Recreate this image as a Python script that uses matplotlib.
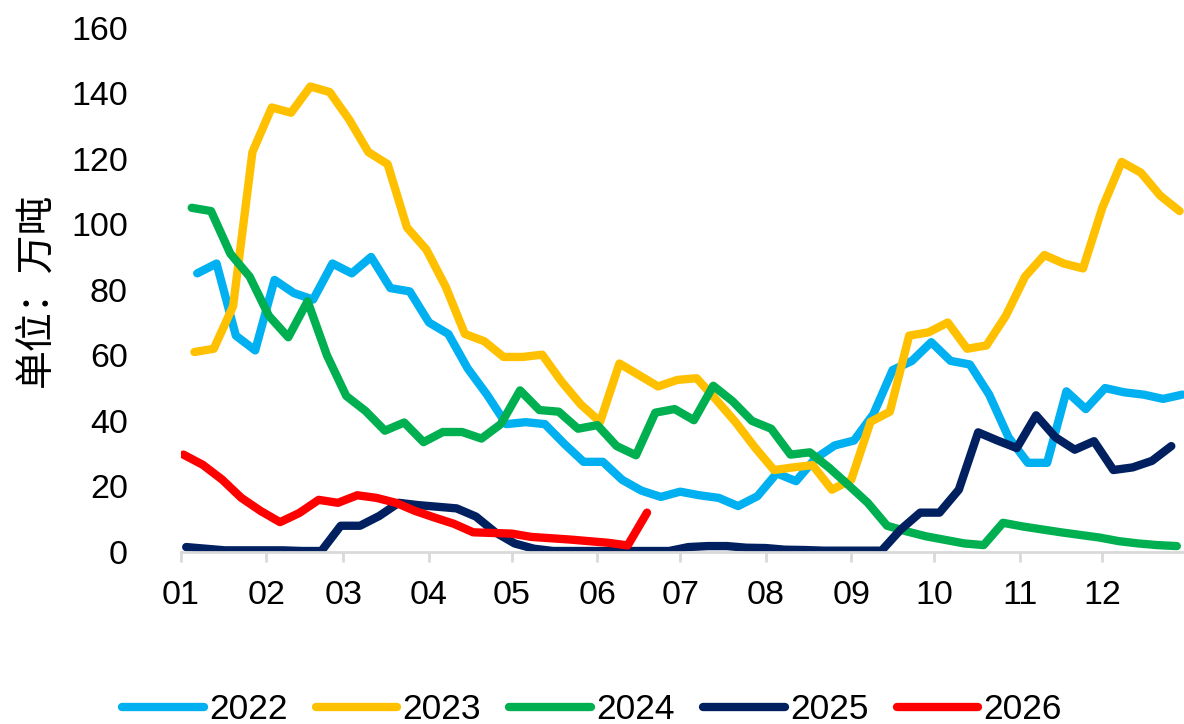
import matplotlib
matplotlib.use('Agg')
import matplotlib.pyplot as plt
import pandas as pd

plt.rcParams['font.family'] = ['Liberation Sans', 'DejaVu Sans']

# weekly series, first report date of each year (Fridays)
years = ['2022', '2023', '2024', '2025', '2026']
start_dates = ['2022-01-07', '2023-01-06', '2024-01-05', '2025-01-03', '2026-01-02']
colors = ['#00B0F0', '#FFC000', '#00B050', '#002060', '#FF0000']

v2022 = [85, 88, 66, 61.5, 83, 79, 77, 88, 85, 90, 80.5, 79.5, 70, 66.5, 56,
         48, 39, 39.6, 39, 33, 27.5, 27.5, 22, 18.7, 16.8, 18.4, 17.3, 16.5, 14,
         17, 24, 21.6, 28.5, 32.5, 34, 42, 55.5, 58.3, 64, 58.3, 57.2, 48, 35,
         27.2, 27.2, 49, 43.6, 50, 48.7, 48, 46.7, 48]
v2023 = [61, 62, 75, 122, 135.6, 134, 142, 140.3, 132, 122, 118.3, 99, 92.3,
         81, 66.5, 64.3, 59.5, 59.5, 60.2, 52, 45, 39.7, 57.5, 54, 50.5, 52.5,
         53, 46.5, 39.7, 32, 25, 25.8, 26.5, 19, 22, 39.7, 42.8, 66, 67, 70, 62,
         63, 72, 84, 90.6, 88, 86.5, 105, 119, 115.7, 108.7, 104]
v2024 = [105, 104, 91, 84, 72, 65.5, 76.5, 60, 47.6, 43, 37, 39.5, 33.5, 36.6,
         36.6, 34.6, 39, 49.3, 43.3, 42.8, 37.6, 38.7, 32.3, 29.5, 42.5, 43.6,
         40.2, 50.7, 46, 40, 37.6, 29.7, 30.4, 25.7, 20.4, 15, 8, 6.3, 4.8, 3.7,
         2.6, 2.1, 8.9, 7.8, 6.9, 6, 5.2, 4.4, 3.3, 2.6, 2.1, 1.8]
v2025 = [1.5, 1, 0.5, 0.5, 0.5, 0.5, 0.3, 0.3, 8, 8, 11, 15, 14.3, 13.8, 13.3,
         10.8, 6, 2.6, 1, 0.3, 0.3, 0.3, 0.3, 0.3, 0.3, 0.3, 1.5, 1.8, 1.8, 1.3,
         1.2, 0.7, 0.6, 0.4, 0.4, 0.4, 0.4, 6.9, 12, 12, 19, 36.5, 34, 31.7,
         41.7, 35, 31.2, 33.8, 25, 25.8, 27.8, 32.3]
v2026 = [29.7, 26.6, 22.1, 16.5, 12.5, 9.1, 11.9, 15.9, 15.0, 17.3, 16.5, 15.0,
         12.5, 10.5, 8.6, 6.0, 5.8, 5.6, 4.6, 4.2, 3.8, 3.3, 2.8, 2.0, 12.0]
series = [v2022, v2023, v2024, v2025, v2026]

month_labels = ['01', '02', '03', '04', '05', '06', '07', '08', '09', '10', '11', '12']

fig = plt.figure(figsize=(11.84, 7.24), dpi=100)
ax = fig.add_axes([0.1526, 0.2376, 0.8474, 0.7244])

for year, start, vals, c in zip(years, start_dates, series, colors):
    dates = pd.date_range(start, periods=len(vals), freq='7D')
    x = (dates - pd.Timestamp(year + '-01-01')).days
    ax.plot(x, vals, color=c, lw=6, label=year,
            solid_capstyle='round', solid_joinstyle='round')

# month ticks on a non-leap calendar
month_starts = (pd.date_range('2023-01-01', periods=12, freq='MS')
                - pd.Timestamp('2023-01-01')).days
ax.set_xticks(month_starts)
ax.set_xticklabels(month_labels)
ax.set_xlim(0, 363.6)
ax.set_ylim(0, 160)
ax.set_yticks(range(0, 161, 20))

for s in ['top', 'right', 'left']:
    ax.spines[s].set_visible(False)
ax.spines['bottom'].set_color('#D9D9D9')
ax.spines['bottom'].set_linewidth(2)
ax.tick_params(axis='x', length=7, width=2, color='#D9D9D9', pad=13, labelsize=24.5)
ax.tick_params(axis='y', length=0, pad=38, labelsize=24.5)

ax.set_ylabel('单位：万吨', fontsize=28, family=['Noto Sans CJK SC'])
ax.yaxis.set_label_coords(-0.125, 0.5)

fig.legend(loc='center', bbox_to_anchor=(0.5, 0.02), ncol=5, frameon=False,
           fontsize=25.5, handlelength=2.3, handletextpad=0.15, columnspacing=0.8)

fig.savefig('out.png', dpi=100)
